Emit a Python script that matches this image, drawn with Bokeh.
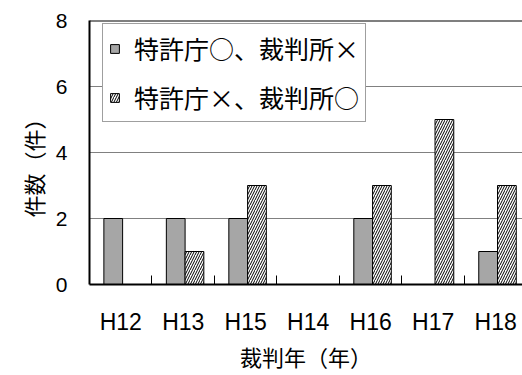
from bokeh.plotting import figure
from bokeh.models import Range1d, FixedTicker, Span, Legend, LegendItem, Title
from bokeh.embed import file_html
from bokeh.resources import INLINE

categories = ["H12", "H13", "H15", "H14", "H16", "H17", "H18"]
series_a_label = "特許庁○、裁判所×"
series_b_label = "特許庁×、裁判所○"
series_a = [2, 2, 2, 0, 2, 0, 1]
series_b = [0, 1, 3, 0, 3, 5, 3]
y_ticks = [0, 2, 4, 6, 8]
x_title = "裁判年（年）"
y_title = "件数（件）"

centers = [i + 0.5 for i in range(len(categories))]
bounds = [i for i in range(1, len(categories) + 1)]

p = figure(width=522, height=375, output_backend="svg", toolbar_location=None,
           x_range=Range1d(0, 6.93), y_range=Range1d(0, 8),
           min_border_left=89, min_border_right=0, min_border_top=20, min_border_bottom=91)
p.outline_line_color = None
p.background_fill_color = "white"
p.border_fill_color = "white"

xa = [c - 0.12 for c in centers]
xb = [c + 0.18 for c in centers]
ra = p.vbar(x=xa, top=series_a, width=0.3, bottom=0, fill_color="#a6a6a6",
            line_color="black", line_width=1)
rb = p.vbar(x=xb, top=series_b, width=0.3, bottom=0, fill_color="white",
            line_color="black", line_width=1, hatch_pattern="right_diagonal_line",
            hatch_color="black", hatch_scale=5, hatch_weight=1)

# grid
p.xgrid.grid_line_color = None
p.ygrid.ticker = FixedTicker(ticks=[2, 4, 6])
p.ygrid.grid_line_color = "#808080"
p.ygrid.grid_line_width = 1
p.add_layout(Span(location=8, dimension="width", line_color="black", line_width=2))

# x axis
p.xaxis.ticker = FixedTicker(ticks=centers, minor_ticks=bounds)
p.xaxis.major_label_overrides = {c: lab for c, lab in zip(centers, categories)}
p.xaxis.major_tick_in = 0
p.xaxis.major_tick_out = 0
p.xaxis.minor_tick_in = 9
p.xaxis.minor_tick_out = 0
p.xaxis.minor_tick_line_color = "black"
p.xaxis.axis_line_color = "black"
p.xaxis.axis_line_width = 2
p.xaxis.major_label_text_font = "Liberation Sans"
p.xaxis.major_label_text_font_size = "23px"
p.xaxis.major_label_text_color = "black"
p.xaxis.major_label_standoff = 24
p.xaxis.axis_label = x_title
p.xaxis.axis_label_text_font = "Noto Sans CJK JP"
p.xaxis.axis_label_text_font_size = "22px"
p.xaxis.axis_label_text_font_style = "normal"
p.xaxis.axis_label_text_color = "black"
p.xaxis.axis_label_standoff = 2

# y axis
p.yaxis.ticker = FixedTicker(ticks=y_ticks)
p.yaxis.major_tick_in = 0
p.yaxis.major_tick_out = 0
p.yaxis.minor_tick_line_color = None
p.yaxis.axis_line_color = "black"
p.yaxis.axis_line_width = 2
p.yaxis.major_label_text_font = "Liberation Sans"
p.yaxis.major_label_text_font_size = "21px"
p.yaxis.major_label_text_color = "black"
p.yaxis.major_label_standoff = 22

ytitle = Title(text=y_title, align="left", offset=67, text_font="Noto Sans CJK JP",
               text_font_size="22px", text_font_style="normal", text_color="black",
               standoff=8)
p.add_layout(ytitle, "left")

legend = Legend(items=[LegendItem(label=series_a_label, renderers=[ra]),
                       LegendItem(label=series_b_label, renderers=[rb])],
                location=(13, 162))
legend.label_text_font = "Noto Sans CJK JP"
legend.label_text_font_size = "25px"
legend.label_text_color = "black"
legend.glyph_width = 11
legend.glyph_height = 11
legend.label_height = 32
legend.label_standoff = 14
legend.spacing = 13
legend.padding = 6
legend.margin = 0
legend.border_line_color = "#404040"
legend.border_line_width = 1
legend.background_fill_color = "white"
legend.background_fill_alpha = 1
p.add_layout(legend)

open("out.html", "w").write(file_html(p, INLINE))
